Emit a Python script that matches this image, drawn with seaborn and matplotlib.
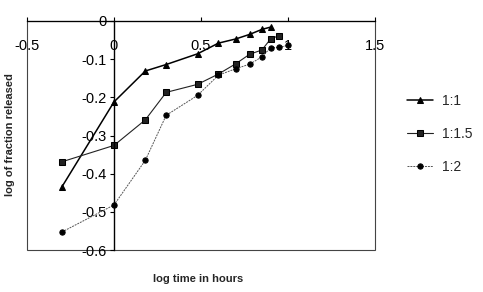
import matplotlib
matplotlib.use("Agg")
import matplotlib.pyplot as plt
import seaborn as sns
import pandas as pd
from matplotlib.patches import Rectangle

sns.set_theme(style="white")
plt.rcParams['font.family'] = ['Liberation Sans', 'DejaVu Sans']

# data (log time in hours, log of fraction released)
x_11 = [-0.30, 0.0, 0.18, 0.30, 0.48, 0.60, 0.70, 0.78, 0.85, 0.90]
y_11 = [-0.435, -0.212, -0.131, -0.114, -0.086, -0.058, -0.047, -0.035, -0.022, -0.016]

x_115 = [-0.30, 0.0, 0.18, 0.30, 0.48, 0.60, 0.70, 0.78, 0.85, 0.90, 0.95]
y_115 = [-0.369, -0.326, -0.259, -0.187, -0.166, -0.139, -0.112, -0.087, -0.076, -0.047, -0.038]

x_12 = [-0.30, 0.0, 0.18, 0.30, 0.48, 0.60, 0.70, 0.78, 0.85, 0.90, 0.95, 1.0]
y_12 = [-0.553, -0.482, -0.365, -0.247, -0.195, -0.142, -0.125, -0.113, -0.094, -0.070, -0.069, -0.064]

labels = ["1:1", "1:1.5", "1:2"]
x_ticks = [-0.5, 0, 0.5, 1, 1.5]
x_tick_labels = ["-0.5", "0", "0.5", "1", "1.5"]
y_ticks = [0, -0.1, -0.2, -0.3, -0.4, -0.5, -0.6]
y_tick_labels = ["0", "-0.1", "-0.2", "-0.3", "-0.4", "-0.5", "-0.6"]

W, H = 483, 292
fig = plt.figure(figsize=(W / 100, H / 100), dpi=100)
ax = fig.add_axes([27 / W, 1 - 250 / H, (375 - 27) / W, (250 - 21) / H])

df11 = pd.DataFrame({"x": x_11, "y": y_11})
df115 = pd.DataFrame({"x": x_115, "y": y_115})
df12 = pd.DataFrame({"x": x_12, "y": y_12})

sns.lineplot(data=df11, x="x", y="y", ax=ax, color="black", lw=1.1,
             marker="^", markersize=4.5, markeredgecolor="black", label=labels[0])
sns.lineplot(data=df115, x="x", y="y", ax=ax, color="#222222", lw=0.8,
             marker="s", markersize=4, markeredgecolor="black", label=labels[1])
sns.lineplot(data=df12, x="x", y="y", ax=ax, color="#555555", lw=0.7, linestyle=(0, (2, 1)),
             marker="o", markersize=3.8, markerfacecolor="black", markeredgecolor="black",
             label=labels[2])

ax.set_xlim(-0.5, 1.5)
ax.set_ylim(-0.6, 0)

# frame
for s in ["right", "bottom"]:
    ax.spines[s].set_visible(False)
ax.spines["top"].set_color("black")
ax.spines["top"].set_linewidth(0.9)
ax.spines["left"].set_position(("data", 0))
ax.spines["left"].set_color("black")
ax.spines["left"].set_linewidth(1.0)
ax.add_patch(Rectangle((0, 0), 1, 1, transform=ax.transAxes, fill=False,
                       edgecolor="#444444", lw=0.8, clip_on=False, zorder=0))

ax.set_xticks(x_ticks)
ax.set_xticklabels(x_tick_labels)
ax.set_yticks(y_ticks)
ax.set_yticklabels(y_tick_labels)
ax.tick_params(axis="x", top=True, bottom=False, labeltop=True, labelbottom=False,
               direction="out", length=3, width=0.8, pad=-26, labelsize=10.5, colors="black")
ax.tick_params(axis="y", left=True, direction="out", length=3, width=0.8, pad=2,
               labelsize=10.5, colors="black")

ax.set_xlabel("")
ax.set_ylabel("")
fig.text(198 / W, 1 - 279 / H, "log time in hours", ha="center", va="center",
         fontsize=8, fontweight="bold")
fig.text(10 / W, 1 - 135 / H, "log of fraction released", ha="center", va="center",
         rotation=90, fontsize=8, fontweight="bold")

ax.legend_.remove()
handles, lbls = ax.get_legend_handles_labels()
fig.legend(handles, lbls, loc="center left", bbox_to_anchor=(400 / W, 1 - 134 / H),
           frameon=False, fontsize=10, handlelength=1.9, labelspacing=1.35,
           handletextpad=0.6, borderpad=0)

fig.savefig("out.png", dpi=100, facecolor="white")
